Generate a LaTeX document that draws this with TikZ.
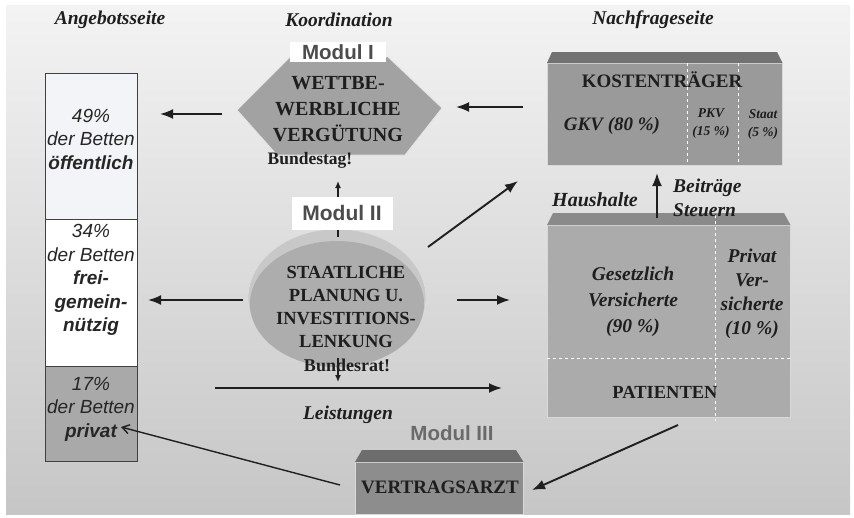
\documentclass[tikz,border=0pt]{standalone}
\usepackage{fontspec}
\setmainfont{Liberation Serif}
\setsansfont{Liberation Sans}
\usetikzlibrary{arrows.meta,shapes.geometric}
\definecolor{bgtop}{HTML}{F3F3F3}
\definecolor{bgbot}{HTML}{C6C6C6}
\definecolor{colA}{HTML}{F3F4F7}
\definecolor{colC}{HTML}{A9A9A9}
\definecolor{hexfill}{HTML}{A2A2A2}
\definecolor{kostfront}{HTML}{9A9A9A}
\definecolor{kosttop}{HTML}{727272}
\definecolor{hausfront}{HTML}{ABABAB}
\definecolor{haustop}{HTML}{8A8A8A}
\definecolor{vafront}{HTML}{8D8D8D}
\definecolor{vatop}{HTML}{6D6D6D}
\definecolor{ellfill}{HTML}{ADADAD}
\definecolor{ellrim}{HTML}{C8C8C8}
\definecolor{modgray}{HTML}{4C4C4C}
\definecolor{modgrayl}{HTML}{6A6A6A}
\definecolor{txt}{HTML}{1E1E1E}
\begin{document}
\begin{tikzpicture}[x=1pt,y=-1pt,
  arr/.style={-{Latex[length=13pt,width=10pt]},line width=1.9pt,draw=black!88},
  smallarr/.style={-{Latex[length=7pt,width=6pt]},line width=1.4pt,draw=black!88},
  barb/.style={-{Straight Barb[length=7pt,width=9pt]},line width=1.4pt,draw=black!88},
  title/.style={font=\bfseries\itshape\fontsize{19.5}{22}\selectfont,text=txt,inner sep=0pt},
  coltext/.style={font=\sffamily\itshape\fontsize{19}{23.5}\selectfont,align=center,text=black!85,inner sep=0pt},
  caps/.style={font=\bfseries\fontsize{19}{26}\selectfont,align=center,text=txt,inner sep=0pt},
  ital/.style={font=\bfseries\itshape\fontsize{19}{25}\selectfont,align=center,text=txt,inner sep=0pt},
  small/.style={font=\bfseries\itshape\fontsize{13.5}{18}\selectfont,align=center,text=txt,inner sep=0pt},
  modul/.style={font=\sffamily\bfseries\fontsize{20.5}{22}\selectfont,text=modgray,inner sep=0pt},
  colbox/.style={draw=black!75,line width=0.8pt,anchor=north west,minimum width=92pt,inner sep=0pt},
  front/.style={anchor=north west,inner sep=0pt,draw=white!70!gray,line width=0.5pt},
  split/.style={draw=white,dashed,line width=0.8pt}
]
\useasboundingbox (0,0) rectangle (854,517);
\fill[white] (0,0) rectangle (854,517);
\shade[top color=bgtop,bottom color=bgbot] (6,5) rectangle (850,514);

% titles
\node[title] (angebot) at (110,20) {Angebotsseite};
\node[title] (koord) at (339,20) {Koordination};
\node[title] (nachfrage) at (653,20) {Nachfrageseite};

% left column
\node[colbox,fill=colA,minimum height=146pt] (c1) at (45,73) {};
\node[colbox,fill=white,minimum height=147pt] (c2) at (45,219) {};
\node[colbox,fill=colC,minimum height=95pt] (c3) at (45,366) {};
\node[coltext] (t1) at (91,139) {49\%\\der Betten\\\textbf{öffentlich}};
\node[coltext] (t2) at (91,280) {34\%\\der Betten\\\textbf{frei-}\\\textbf{gemein-}\\\textbf{nützig}};
\node[coltext] (t3) at (91,409) {17\%\\der Betten\\\textbf{privat}};

% Modul I hexagon
\fill[hexfill,draw=white!80!gray,line width=0.8pt] (237,110) -- (290,57) -- (388,57) -- (442,108) -- (405,155) -- (277,155) -- cycle;
\node[fill=white,minimum width=96pt,minimum height=20pt,inner sep=0pt] (m1box) at (338,52) {};
\node[modul] (m1) at (338,52) {Modul I};
\node[caps,font=\bfseries\fontsize{20}{26}\selectfont] (hexT) at (338,109) {WETTBE-\\WERBLICHE\\VERGÜTUNG};
\node[caps,font=\bfseries\fontsize{17.5}{20}\selectfont] (btag) at (310,160) {Bundestag!};

% ellipse Modul II
\node[ellipse,fill=ellrim,draw=white!75!gray,line width=0.6pt,minimum width=178pt,minimum height=138pt,inner sep=0pt] (ell) at (337,298) {};
\node[ellipse,fill=ellfill,minimum width=174pt,minimum height=126pt,inner sep=0pt] (ellin) at (337,304) {};
\coordinate (ellTop) at (338,237);
\coordinate (hexBot) at (338,181);
\draw[smallarr] (ellTop) -- (hexBot);
\node[fill=white,minimum width=101pt,minimum height=33pt,inner sep=0pt] (m2box) at (342,213) {};
\node[modul,font=\sffamily\bfseries\fontsize{21}{22}\selectfont] (m2) at (342,213) {Modul II};
\node[caps,font=\bfseries\fontsize{18.5}{23.3}\selectfont] (ellT) at (346,307) {STAATLICHE\\PLANUNG U.\\INVESTITIONS-\\LENKUNG};
\node[caps,font=\bfseries\fontsize{18}{20}\selectfont] (brat) at (347,365) {Bundesrat!};
\coordinate (ellBot) at (338,358);
\coordinate (leistTop) at (338,382);
\draw[smallarr] (ellBot) -- (leistTop);

% Kostentraeger box
\node[front,fill=kostfront,minimum width=235pt,minimum height=102pt] (kost) at (547,63) {};
\fill[kosttop] (kost.north west) -- (552,52) -- (777,52) -- (kost.north east) -- cycle;
\draw[split] (687,63) -- (687,165);
\draw[split] (738,63) -- (738,165);
\node[caps] (kostT) at (662,80) {KOSTENTRÄGER};
\node[ital] (gkv) at (612,126) {GKV (80 \%)};
\node[small] (pkv) at (711,124) {PKV\\(15 \%)};
\node[small] (staat) at (763,124) {Staat\\(5 \%)};

% Haushalte box
\node[front,fill=hausfront,minimum width=243pt,minimum height=192pt] (haus) at (547,225) {};
\fill[haustop] (haus.north west) -- (553,213) -- (784,213) -- (haus.north east) -- cycle;
\draw[split] (715,215) -- (715,421);
\draw[split] (547,358) -- (790,358);
\node[ital,font=\bfseries\itshape\fontsize{19.5}{26}\selectfont] (gv) at (633,302) {Gesetzlich\\Versicherte\\(90 \%)};
\node[ital,font=\bfseries\itshape\fontsize{19.5}{24}\selectfont] (pv) at (752,294) {Privat\\Ver-\\sicherte\\(10 \%)};
\node[caps,font=\bfseries\fontsize{18.5}{22}\selectfont] (pat) at (665,392) {PATIENTEN};
\node[title,font=\bfseries\itshape\fontsize{20}{22}\selectfont] (hh) at (595,200) {Haushalte};
\node[title,anchor=west,align=left,font=\bfseries\itshape\fontsize{19.5}{24}\selectfont] (beit) at (673,198) {Beiträge\\Steuern};

% Vertragsarzt
\node[front,fill=vafront,minimum width=168pt,minimum height=52pt] (va) at (355,462) {};
\fill[vatop] (va.north west) -- (362,450) -- (516,450) -- (va.north east) -- cycle;
\node[caps,font=\bfseries\fontsize{19}{22}\selectfont] (vaT) at (440,487) {VERTRAGSARZT};
\node[modul,text=modgrayl] (m3) at (452,433) {Modul III};
\node[title] (leist) at (348,415) {Leistungen};

% connectors
\coordinate (hexL) at (222,114);
\coordinate (c1R) at (160,114);
\coordinate (kostL) at (523,107);
\coordinate (hexR) at (456,107);
\coordinate (ellL) at (243,300);
\coordinate (c2R) at (148,300);
\coordinate (ellR) at (457,300);
\coordinate (hausL) at (510,300);
\coordinate (ellNE) at (428,247);
\coordinate (kostSW) at (518,181);
\coordinate (hausTop) at (657,218);
\coordinate (kostBot) at (657,173);
\coordinate (leistL) at (215,388);
\coordinate (leistR) at (502,388);
\coordinate (vaL) at (340,485);
\coordinate (privR) at (121,427);
\coordinate (hausBot) at (678,425);
\coordinate (vaR) at (532,490);
\draw[arr] (hexL) -- (c1R);
\draw[arr] (kostL) -- (hexR);
\draw[arr] (ellL) -- (c2R);
\draw[arr] (ellR) -- (hausL);
\draw[arr] (ellNE) -- (kostSW);
\draw[arr] (hausTop) -- (kostBot);
\draw[arr] (leistL) -- (leistR);
\draw[barb] (vaL) -- (privR);
\draw[arr] (hausBot) -- (vaR);
\end{tikzpicture}
\end{document}
